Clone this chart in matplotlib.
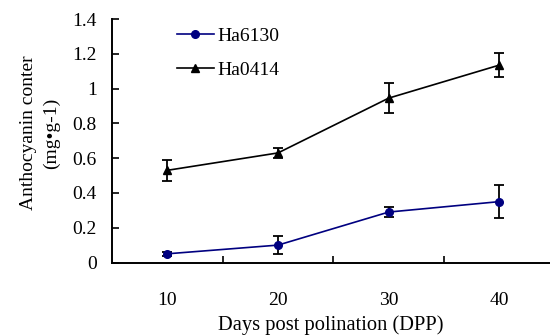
import matplotlib

matplotlib.use("Agg")
import matplotlib.pyplot as plt
import numpy as np

# data
days = ["10", "20", "30", "40"]
ha6130_mean = [0.05, 0.10, 0.29, 0.35]
ha6130_err = [0.012, 0.05, 0.03, 0.097]
ha0414_mean = [0.53, 0.63, 0.945, 1.135]
ha0414_err = [0.06, 0.03, 0.085, 0.07]
y_ticks = [0, 0.2, 0.4, 0.6, 0.8, 1.0, 1.2, 1.4]

plt.rcParams["font.family"] = ["Liberation Serif", "DejaVu Serif"]
plt.rcParams["font.size"] = 14

W, H = 550, 335
fig = plt.figure(figsize=(W / 100, H / 100), dpi=100)
ax = fig.add_axes([112 / W, (H - 262.5) / H, 438 / W, 243.5 / H])

x = np.arange(1, len(days) + 1)

ax.errorbar(x, ha6130_mean, yerr=ha6130_err, color="#000080", marker="o",
            markersize=5.5, linewidth=1.2, ecolor="black", elinewidth=1.3,
            capsize=3.3, capthick=1.3, label="Ha6130", zorder=3)
ax.errorbar(x, ha0414_mean, yerr=ha0414_err, color="black", marker="^",
            markersize=6, linewidth=1.2, ecolor="black", elinewidth=1.3,
            capsize=3.3, capthick=1.3, label="Ha0414", zorder=3)

ax.set_xlim(0.5, 0.5 + 438 / 110.67)
ax.set_ylim(0, 1.4)

ax.spines["top"].set_visible(False)
ax.spines["right"].set_visible(False)
ax.spines["left"].set_linewidth(1.4)
ax.spines["bottom"].set_linewidth(1.4)

ax.set_yticks(y_ticks)
ax.set_yticklabels([f"{v:g}" for v in y_ticks])
ax.tick_params(axis="y", direction="in", length=5, width=1.2, pad=11)

ax.set_xticks(x)
ax.set_xticklabels(days)
ax.set_xticks(x[:-1] + 0.5, minor=True)
ax.tick_params(axis="x", which="major", length=0, pad=21)
ax.tick_params(axis="x", which="minor", direction="in", length=5, width=1.2)
ax.set_xlabel("Days post polination (DPP)", fontsize=14.8, labelpad=5)

fig.text(40 / W, 1 - 133 / H, "Anthocyanin conter\n(mg\u2022g-1)",
         rotation=90, ha="center", va="center", multialignment="center",
         linespacing=1.5)

handles, labels = ax.get_legend_handles_labels()
handles = [h[0] for h in handles]
ax.legend(handles, labels, loc="upper left", frameon=False,
          bbox_to_anchor=(177 / W, 1 - 27 / H), bbox_transform=fig.transFigure,
          borderpad=0, borderaxespad=0, handlelength=1.9, handletextpad=0.2,
          labelspacing=0.85)

fig.savefig("out.png", dpi=100)
